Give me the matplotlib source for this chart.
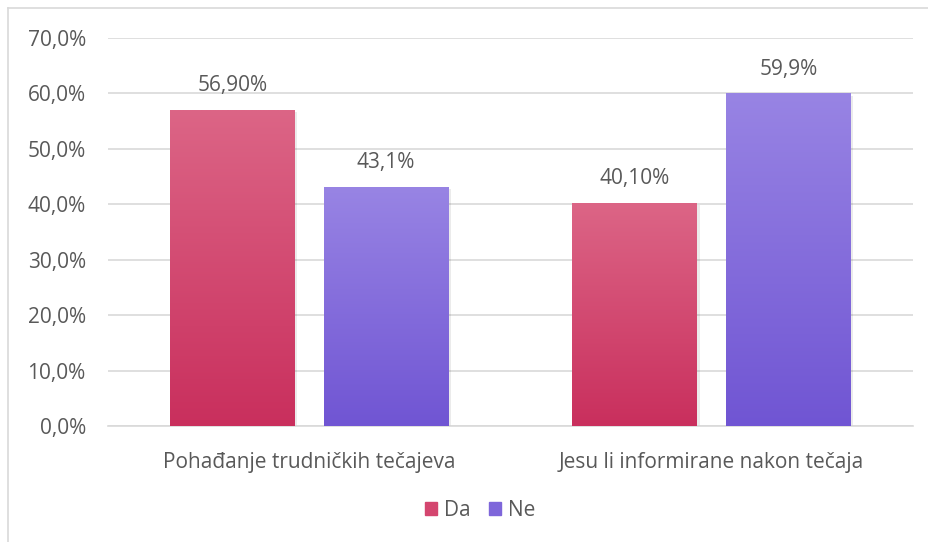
import matplotlib.pyplot as plt
import matplotlib.patches as mpatches
from matplotlib.colors import LinearSegmentedColormap
import numpy as np

categories = ["Pohađanje trudničkih tečajeva", "Jesu li informirane nakon tečaja"]
series_names = ["Da", "Ne"]
da_values = [56.9, 40.1]
ne_values = [43.1, 59.9]
da_labels = ["56,90%", "40,10%"]
ne_labels = ["43,1%", "59,9%"]
yticks = [0, 10, 20, 30, 40, 50, 60, 70]
ytick_labels = ["0,0%", "10,0%", "20,0%", "30,0%", "40,0%", "50,0%", "60,0%", "70,0%"]

plt.rcParams['font.family'] = ['Open Sans', 'DejaVu Sans']
txt = '#595959'
fs = 15

da_cmap = LinearSegmentedColormap.from_list('da', ['#C92F5D', '#DC6586'])
ne_cmap = LinearSegmentedColormap.from_list('ne', ['#7055D3', '#9884E4'])

fig = plt.figure(figsize=(9.29, 5.42), dpi=100)
ax = fig.add_axes([108/929, 1-426/542, 805/929, 388/542])

x = np.arange(len(categories))
w = 0.31
off = 0.191

grad = np.linspace(0, 1, 256).reshape(-1, 1)

def gradient_bar(xc, h, cmap):
    # soft shadow to the right
    ax.add_patch(mpatches.Rectangle((xc - w/2 + 0.006, 0), w, h - 0.3, color='#000000', alpha=0.08, lw=0, zorder=2))
    ax.imshow(grad, cmap=cmap, origin='lower', aspect='auto',
              extent=(xc - w/2, xc + w/2, 0, h), zorder=3)

for i in range(len(categories)):
    gradient_bar(x[i] - off, da_values[i], da_cmap)
    gradient_bar(x[i] + off, ne_values[i], ne_cmap)
    ax.text(x[i] - off, da_values[i] + 2.6, da_labels[i], ha='center', va='bottom', fontsize=fs, color=txt)
    ax.text(x[i] + off, ne_values[i] + 2.6, ne_labels[i], ha='center', va='bottom', fontsize=fs, color=txt)

ax.set_xlim(-0.5, 1.5)
ax.set_ylim(0, 70)
ax.set_yticks(yticks)
ax.set_yticklabels(ytick_labels)
ax.set_xticks(x)
ax.set_xticklabels(categories)
ax.tick_params(axis='y', length=0, pad=16, labelsize=fs, labelcolor=txt)
ax.tick_params(axis='x', length=0, pad=19, labelsize=fs, labelcolor=txt)
ax.grid(axis='y', color='#D9D9D9', lw=1.2, zorder=0)
ax.set_axisbelow(True)
for s in ['top', 'right', 'left']:
    ax.spines[s].set_visible(False)
ax.spines['bottom'].set_color('#D9D9D9')
ax.spines['bottom'].set_linewidth(1.2)

handles = [mpatches.Patch(color='#D4466F', label=series_names[0]),
           mpatches.Patch(color='#7E66DA', label=series_names[1])]
fig.legend(handles=handles, loc='center', bbox_to_anchor=(480/929, 1-510/542), ncol=2,
           frameon=False, fontsize=fs, labelcolor=txt, handlelength=0.6, handleheight=0.6,
           handletextpad=0.3, columnspacing=0.9)

# outer chart border (left and top visible)
fig.add_artist(plt.Line2D([8/929, 8/929], [0, 1-8/542], transform=fig.transFigure, color='#D9D9D9', lw=1.2))
fig.add_artist(plt.Line2D([8/929, 1], [1-8/542, 1-8/542], transform=fig.transFigure, color='#D9D9D9', lw=1.2))

fig.savefig('out.png', dpi=100)
